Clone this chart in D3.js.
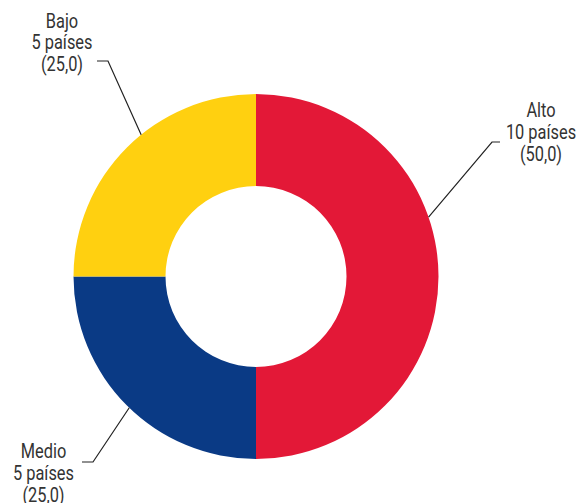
<!DOCTYPE html>
<html>
<head>
<meta charset="utf-8">
<script src="https://cdn.jsdelivr.net/npm/d3@7"></script>
<style>
  body { margin: 0; background: #fff; }
  text { font-family: Roboto, sans-serif; fill: #333; }
</style>
</head>
<body>
<svg id="chart" width="581" height="503"></svg>
<script>
// data
const categories = ['Alto', 'Medio', 'Bajo'];
const countries = [10, 5, 5];
const shares = ['50,0', '25,0', '25,0'];
const colors = ['#E31837', '#0A3A85', '#FFD010'];

// label layout: where the leader touches the ring (degrees), elbow and text anchor
const labelLayout = [
  { angle: 71, elbow: [492, 142], end: [500, 142], tx: 541, ty: 117 },
  { angle: 224, elbow: [93, 462], end: [82, 462], tx: 43.5, ty: 458 },
  { angle: 321, elbow: [108, 61], end: [97, 61], tx: 62, ty: 27.5 }
];

const svg = d3.select('#chart');
const cx = 256, cy = 276.5;
const outerR = 182.5, innerR = 90.5;

const g = svg.append('g')
  .attr('transform', `translate(${cx},${cy})`);

const pie = d3.pie()
  .sort(null)
  .value(d => d.n);

const data = categories.map((c, i) => ({ cat: c, n: countries[i], share: shares[i], color: colors[i], layout: labelLayout[i] }));

const arc = d3.arc()
  .innerRadius(innerR)
  .outerRadius(outerR);

g.selectAll('path.slice')
  .data(pie(data))
  .enter().append('path')
    .attr('class', 'slice')
    .attr('d', arc)
    .attr('fill', d => d.data.color);

// leader lines
const leaders = svg.append('g');
data.forEach(d => {
  const a = d.layout.angle * Math.PI / 180;
  const p0 = [cx + outerR * Math.sin(a), cy - outerR * Math.cos(a)];
  leaders.append('path')
    .attr('d', d3.line()([p0, d.layout.elbow, d.layout.end]))
    .attr('fill', 'none')
    .attr('stroke', '#222')
    .attr('stroke-width', 1.2);
});

// labels (condensed look by horizontal squeeze)
const labels = svg.append('g');
data.forEach(d => {
  const t = labels.append('g')
    .attr('transform', `translate(${d.layout.tx},${d.layout.ty}) scale(0.78,1)`);
  const lines = [d.cat, `${d.n} países`, `(${d.share})`];
  lines.forEach((s, i) => {
    t.append('text')
      .attr('x', 0)
      .attr('y', i * 22)
      .attr('text-anchor', 'middle')
      .style('font-size', '21px')
      .text(s);
  });
});
</script>
</body>
</html>
